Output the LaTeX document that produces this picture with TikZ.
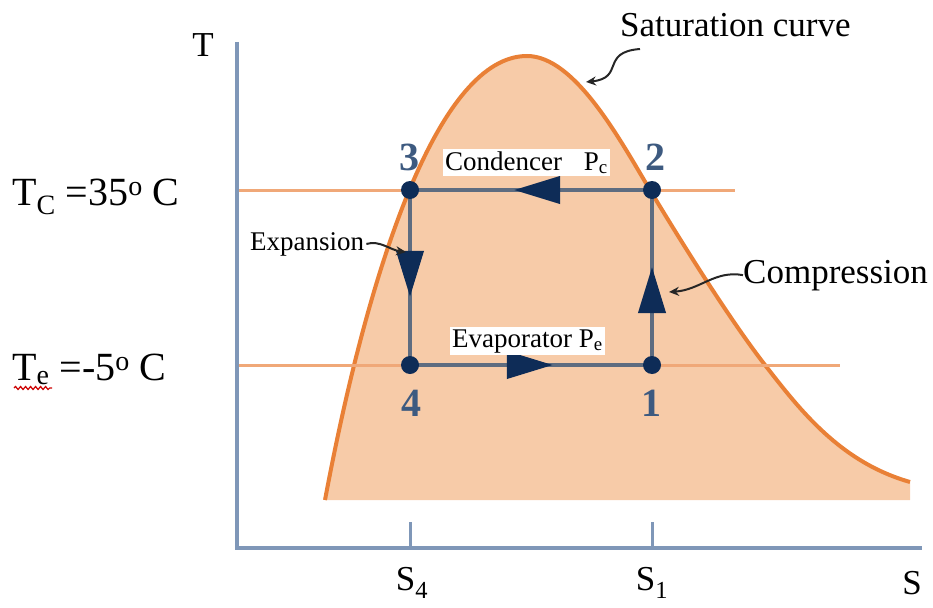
\documentclass[tikz,border=0pt]{standalone}
\usepackage{fontspec}
\setmainfont{Liberation Serif}
\usetikzlibrary{arrows.meta,decorations.markings,decorations.pathmorphing}
\definecolor{axisc}{HTML}{7F97B8}
\definecolor{satfill}{HTML}{F7CBA8}
\definecolor{satline}{HTML}{E98036}
\definecolor{isoline}{HTML}{F0A878}
\definecolor{cycline}{HTML}{5E6C80}
\definecolor{dotc}{HTML}{0E2C57}
\definecolor{numc}{HTML}{3D5A80}
\tikzset{
  axis/.style={draw=axisc,line width=4pt},
  iso/.style={draw=isoline,line width=3pt},
  cyc/.style={draw=cycline,line width=4pt},
  state/.style={circle,fill=dotc,minimum size=18pt,inner sep=0pt},
  num/.style={text=numc,font=\fontsize{40}{44}\selectfont\bfseries},
  big/.style={font=\fontsize{40}{44}\selectfont,inner sep=0pt},
  mid/.style={font=\fontsize{35}{40}\selectfont,inner sep=0pt},
  small/.style={font=\fontsize{27}{32}\selectfont,fill=white,inner sep=2pt},
  midarrow/.style={postaction={decorate,decoration={markings,
     mark=at position #1 with {\arrow[dotc]{Triangle[length=46pt,width=27pt]}}}}},
  note/.style={-{Stealth[length=10pt,width=9pt]},line width=2pt,black!85},
}
\def\satpath{(325,500) .. controls (370,260) and (440,56) .. (527,56)
  .. controls (575,56) and (620,140) .. (650,190)
  .. controls (680,240) and (730,320) .. (765,365)
  .. controls (800,410) and (840,462) .. (910,482)}
\begin{document}
\begin{tikzpicture}[x=1pt,y=-1pt]
\useasboundingbox (0,0) rectangle (933,607);
% saturation region
\fill[satfill] \satpath -- (910,500) -- cycle;
\draw[satline,line width=4pt] \satpath;
% isotherms
\draw[iso] (237,190) -- (735,190);
\draw[iso] (237,365) -- (840,365);
% axes
\draw[axis] (237,42) -- (237,548) -- (922,548);
\draw[axis,line width=3pt] (410,522) -- (410,548);
\draw[axis,line width=3pt] (652,522) -- (652,548);
% cycle
\coordinate (c3) at (410,190);
\coordinate (c2) at (652,190);
\coordinate (c4) at (410,365);
\coordinate (c1) at (652,365);
\draw[cyc,midarrow=0.57] (c2) -- (c3);
\draw[cyc,midarrow=0.61] (c3) -- (c4);
\draw[cyc,midarrow=0.59] (c4) -- (c1);
\draw[cyc,midarrow=0.56] (c1) -- (c2);
\node[state] (p3) at (c3) {};
\node[state] (p2) at (c2) {};
\node[state] (p4) at (c4) {};
\node[state] (p1) at (c1) {};
% state numbers
\node[num] (n3) at (409,157) {3};
\node[num] (n2) at (655,157) {2};
\node[num] (n4) at (411,403) {4};
\node[num] (n1) at (651,403) {1};
% process labels
\node[small,anchor=base west] (cond) at (443,170) {Condencer\hspace{0.8em}P\textsubscript{c}};
\node[small,anchor=base west] (evap) at (450,347) {Evaporator P\textsubscript{e}};
\node[small,anchor=base west,fill=none] (exp) at (248,250) {Expansion};
\node[mid,anchor=base west] (comp) at (743,283) {Compression};
\node[mid,anchor=base west] (sat) at (620,37) {Saturation curve};
% annotation arrows
\draw[note] (exp.east) .. controls (380,240) and (390,250) .. (406,252);
\draw[note] (comp.west) .. controls (715,270) and (700,290) .. (669,292);
\draw[note] (640,49) .. controls (600,52) and (625,78) .. (586,82);
% axis labels
\node[mid] (T) at (203,45) {T};
\node[mid] (s4) at (412,583) {S\textsubscript{4}};
\node[mid] (s1) at (652,583) {S\textsubscript{1}};
\node[mid] (s) at (912,583) {S};
% temperature labels
\node[big,anchor=base west] (tc) at (12,205) {T\textsubscript{C} =35\textsuperscript{o} C};
\node[big,anchor=base west] (te) at (12,380) {T\textsubscript{e} =-5\textsuperscript{o} C};
\draw[red!80!black,line width=1.2pt,decorate,decoration={snake,amplitude=1.5pt,segment length=5pt}] (14,388) -- (52,388);
\end{tikzpicture}
\end{document}
